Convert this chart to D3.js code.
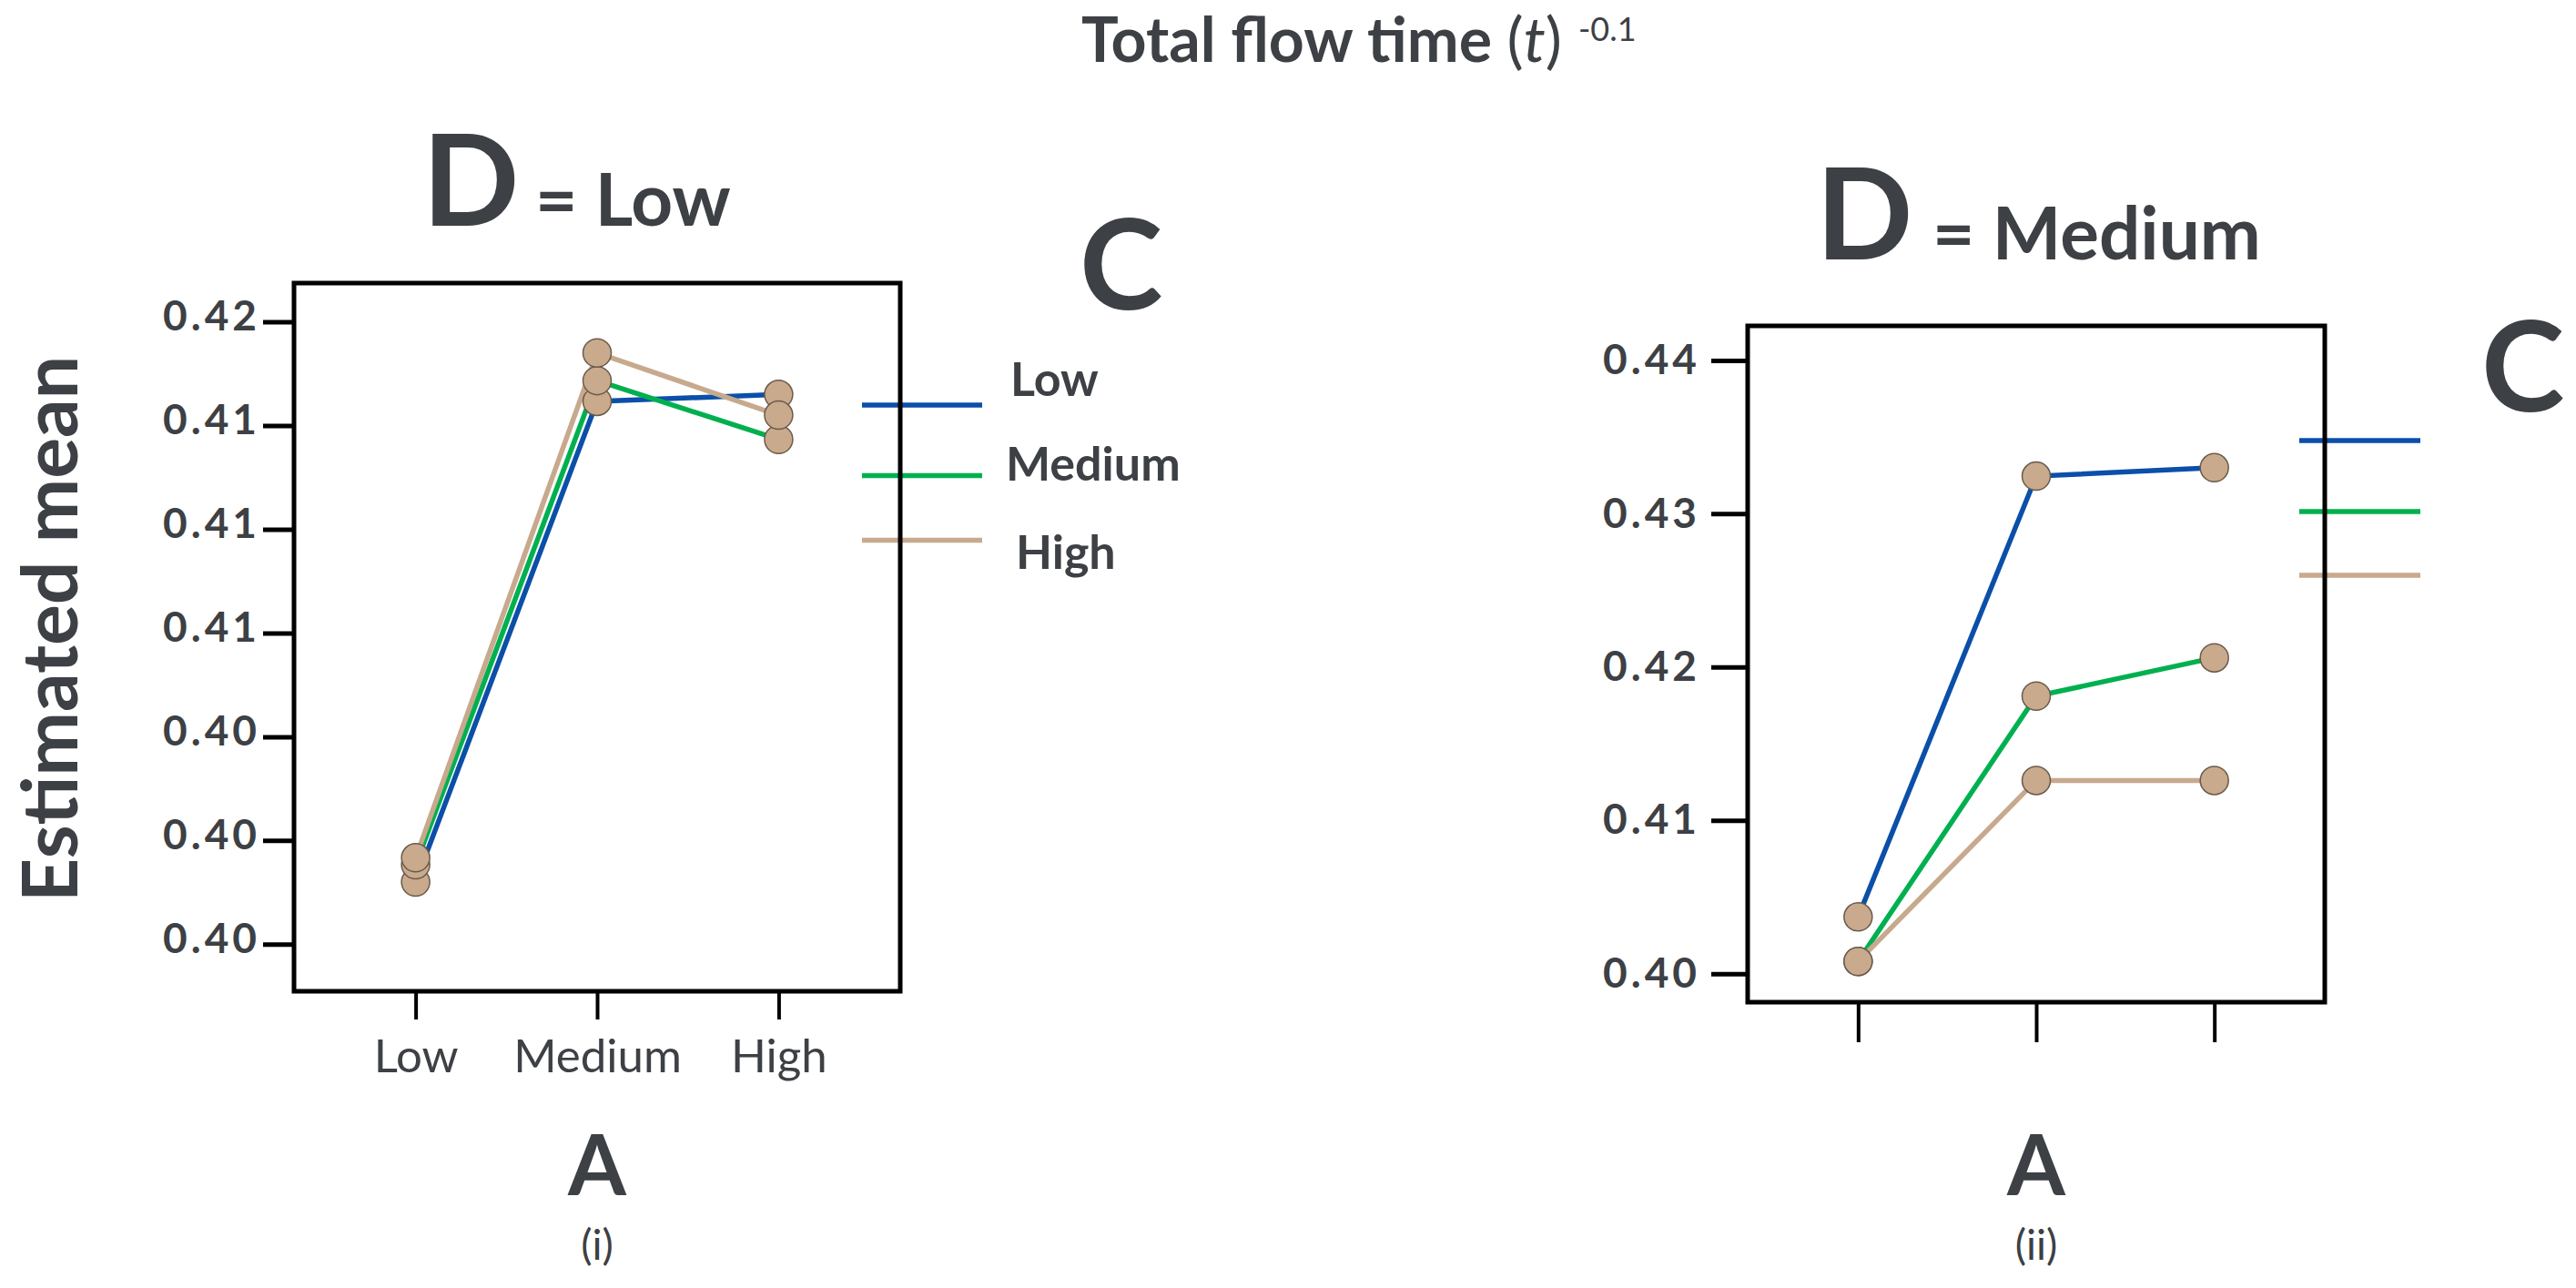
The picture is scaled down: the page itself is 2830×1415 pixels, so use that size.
<!DOCTYPE html>
<html>
<head>
<meta charset="utf-8">
<script src="https://cdn.jsdelivr.net/npm/d3@7"></script>
<style>
  body { margin: 0; background: #fff; }
  svg { display: block; font-family: Lato, "Open Sans", sans-serif; }
</style>
</head>
<body>
<svg id="chart" width="2830" height="1415"></svg>
<script>
// factor levels
const levelsA = ['Low', 'Medium', 'High']
const levelsC = ['Low', 'Medium', 'High']

// D = Low : estimated means per C level, across A
const lowD_cLow = [0.3998, 0.4137, 0.4139]
const lowD_cMedium = [0.4003, 0.4143, 0.4126]
const lowD_cHigh = [0.4005, 0.4151, 0.4133]
const lowD_ticks = [0.416, 0.413, 0.410, 0.407, 0.404, 0.401, 0.398]

// D = Medium
const medD_cLow = [0.4037, 0.43245, 0.4330]
const medD_cMedium = [0.4008, 0.4181, 0.4206]
const medD_cHigh = [0.4008, 0.4126, 0.4126]
const medD_ticks = [0.40, 0.41, 0.42, 0.43, 0.44]

const colorsC = ['#0b4fa9', '#00b04f', '#c7a98d']
const ink = '#3d4044'

const svg = d3.select('#chart')

// main title
const title = svg.append('text')
  .attr('x', 1188).attr('y', 68)
  .attr('fill', ink)
  .style('font-size', '68px')
title.append('tspan').attr('font-weight', 700).text('Total flow time ')
title.append('tspan').attr('font-weight', 400).text('(')
title.append('tspan').attr('font-weight', 400).attr('font-style', 'italic').text('t')
title.append('tspan').attr('font-weight', 400).text(')')
title.append('tspan').attr('dx', 18).attr('dy', -23)
  .style('font-size', '36px').attr('font-weight', 400).text('-0.1')

// y axis title
svg.append('text')
  .attr('transform', 'translate(85,691) rotate(-90)')
  .attr('text-anchor', 'middle')
  .attr('fill', ink)
  .attr('font-weight', 700)
  .style('font-size', '84px')
  .text('Estimated mean')

const panels = [
  {
    dLevel: 'Low', sub: '(i)',
    frame: { x0: 323, x1: 989, y0: 311, y1: 1089 },
    yDomain: [0.39664, 0.41712], ticks: lowD_ticks,
    series: [lowD_cLow, lowD_cMedium, lowD_cHigh],
    xPad: 0.67, yTickLen: 34, yLabelPad: 3, yLabelDy: '0.19em', xTickLen: 31, xLabels: true,
    dPos: [464, 588, 248], cPos: [1186, 340],
    legend: { x0: 947, x1: 1079, ys: [445, 522.5, 593.5], textX: [1110, 1105, 1116], textY: [435, 528, 625] },
  },
  {
    dLevel: 'Medium', sub: '(ii)',
    frame: { x0: 1920, x1: 2554, y0: 358, y1: 1101 },
    yDomain: [0.39814, 0.44225], ticks: medD_ticks,
    series: [medD_cLow, medD_cMedium, medD_cHigh],
    xPad: 0.62, yTickLen: 40, yLabelPad: 12, yLabelDy: '0.32em', xTickLen: 44, xLabels: false,
    dPos: [1995, 2123, 285], cPos: [2726, 452],
    legend: { x0: 2526, x1: 2659, ys: [484, 562, 632] },
  },
]

panels.forEach(p => drawPanel(p))

function drawPanel (p) {
  const f = p.frame
  const x = d3.scalePoint().domain(levelsA).range([f.x0, f.x1]).padding(p.xPad)
  const y = d3.scaleLinear().domain(p.yDomain).range([f.y1, f.y0])
  const g = svg.append('g')

  // panel heading: D = level
  g.append('text').attr('x', p.dPos[0]).attr('y', p.dPos[2])
    .attr('fill', ink).attr('font-weight', 700).style('font-size', '140px').text('D')
  g.append('text').attr('x', p.dPos[1]).attr('y', p.dPos[2])
    .attr('fill', ink).attr('font-weight', 700).style('font-size', '80px').text('= ' + p.dLevel)

  // legend title
  g.append('text').attr('x', p.cPos[0]).attr('y', p.cPos[1])
    .attr('fill', ink).attr('font-weight', 700).style('font-size', '138px').text('C')

  // legend swatches
  g.selectAll('.leg').data(levelsC).enter().append('line')
    .attr('x1', p.legend.x0).attr('x2', p.legend.x1)
    .attr('y1', (d, i) => p.legend.ys[i]).attr('y2', (d, i) => p.legend.ys[i])
    .attr('stroke', (d, i) => colorsC[i]).attr('stroke-width', 5.5)
  if (p.legend.textX) {
    g.selectAll('.legText').data(levelsC).enter().append('text')
      .attr('x', (d, i) => p.legend.textX[i]).attr('y', (d, i) => p.legend.textY[i])
      .attr('fill', ink).attr('font-weight', 700).style('font-size', '52px')
      .text(d => d)
  }

  // series lines
  const line = d3.line().x((d, i) => x(levelsA[i])).y(d => y(d))
  p.series.forEach((vals, si) => {
    g.append('path').datum(vals)
      .attr('d', line).attr('fill', 'none')
      .attr('stroke', colorsC[si]).attr('stroke-width', 5.5)
  })
  p.series.forEach((vals) => {
    g.selectAll(null).data(vals).enter().append('circle')
      .attr('cx', (d, i) => x(levelsA[i])).attr('cy', d => y(d))
      .attr('r', 15.5).attr('fill', '#c9aa8c')
      .attr('stroke', '#6a5a4c').attr('stroke-width', 1.5)
  })

  // frame
  g.append('rect')
    .attr('x', f.x0).attr('y', f.y0)
    .attr('width', f.x1 - f.x0).attr('height', f.y1 - f.y0)
    .attr('fill', 'none').attr('stroke', '#000').attr('stroke-width', 5)

  // y axis
  const ya = g.append('g').attr('transform', `translate(${f.x0},0)`)
    .call(d3.axisLeft(y).tickValues(p.ticks).tickFormat(d3.format('.2f'))
      .tickSize(p.yTickLen).tickPadding(p.yLabelPad))
  ya.select('.domain').remove()
  ya.selectAll('.tick line').attr('stroke', '#000').attr('stroke-width', 5)
  ya.selectAll('.tick text')
    .attr('dy', p.yLabelDy)
    .attr('fill', ink).attr('font-weight', 700)
    .style('font-size', '46px').style('letter-spacing', '4px')
    .style('font-family', 'Lato, sans-serif')

  // x axis
  const xa = g.append('g').attr('transform', `translate(0,${f.y1})`)
    .call(d3.axisBottom(x).tickSize(p.xTickLen).tickPadding(53 - p.xTickLen)
      .tickFormat(p.xLabels ? d => d : () => ''))
  xa.select('.domain').remove()
  xa.selectAll('.tick line').attr('stroke', '#000').attr('stroke-width', 4)
  xa.selectAll('.tick text')
    .attr('fill', ink).attr('font-weight', 400)
    .style('font-size', '51px').style('font-family', 'Lato, sans-serif')

  // factor A label and panel number
  const cx = (f.x0 + f.x1) / 2
  g.append('text').attr('x', cx).attr('y', 1313).attr('text-anchor', 'middle')
    .attr('fill', ink).attr('font-weight', 700).style('font-size', '92px').text('A')
  g.append('text').attr('x', cx).attr('y', 1384).attr('text-anchor', 'middle')
    .attr('fill', ink).attr('font-weight', 400).style('font-size', '46px').text(p.sub)
}
</script>
</body>
</html>
